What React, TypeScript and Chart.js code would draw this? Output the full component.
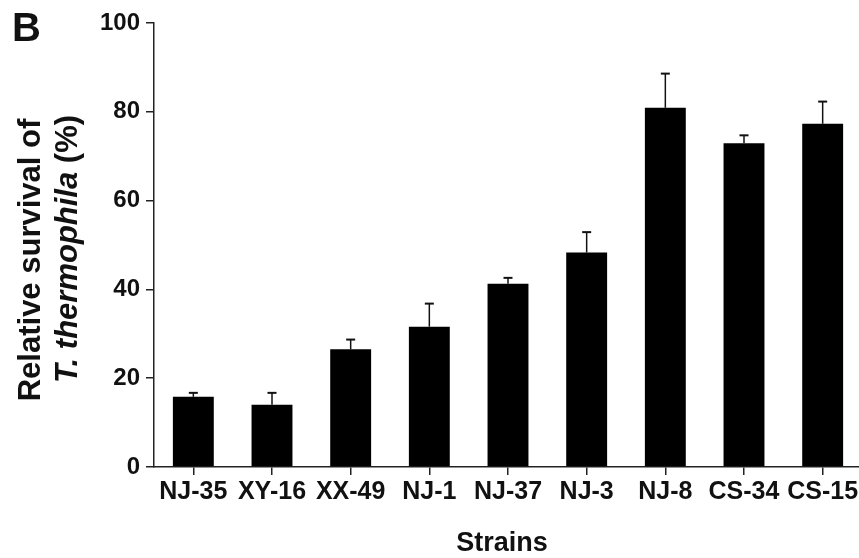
import React, { useEffect, useRef } from "react";
import { Chart, registerables } from "chart.js";

Chart.register(...registerables);

const strains = ["NJ-35", "XY-16", "XX-49", "NJ-1", "NJ-37", "NJ-3", "NJ-8", "CS-34", "CS-15"];
const survival = [15.8, 14.0, 26.5, 31.6, 41.3, 48.3, 80.9, 72.9, 77.3];
const survivalError = [0.9, 2.7, 2.2, 5.2, 1.3, 4.6, 7.7, 1.8, 5.0];
const yTicks = [0, 20, 40, 60, 80, 100];

const panelLabel = "B";
const yTitleLine1 = "Relative survival of";
const yTitleItalic = "T. thermophila";
const yTitleUpright = " (%)";
const xTitle = "Strains";

const FONT = "'Liberation Sans', Arial, sans-serif";
const INK = "#111";

const errorBarPlugin = {
  id: "errorBars",
  afterDatasetsDraw(chart: any) {
    const { ctx, scales } = chart;
    const xs = scales.x;
    const ys = scales.y;
    ctx.save();
    ctx.strokeStyle = "#111";
    ctx.lineWidth = 1.5;
    survival.forEach((v, i) => {
      const x = xs.getPixelForValue(i);
      const yBar = ys.getPixelForValue(v);
      const yTop = ys.getPixelForValue(v + survivalError[i]);
      ctx.beginPath();
      ctx.moveTo(x, yBar);
      ctx.lineTo(x, yTop);
      ctx.stroke();
      ctx.lineWidth = 2;
      ctx.beginPath();
      ctx.moveTo(x - 4.5, yTop);
      ctx.lineTo(x + 4.5, yTop);
      ctx.stroke();
      ctx.lineWidth = 1.5;
    });
    ctx.restore();
  },
};

const titlesPlugin = {
  id: "customTitles",
  afterDraw(chart: any) {
    const { ctx, chartArea } = chart;
    ctx.save();
    ctx.fillStyle = INK;
    // panel letter
    ctx.font = `bold 40px ${FONT}`;
    ctx.textAlign = "left";
    ctx.textBaseline = "alphabetic";
    ctx.fillText(panelLabel, 12, 41);

    // y title line 1
    ctx.save();
    ctx.translate(40, 260);
    ctx.rotate(-Math.PI / 2);
    ctx.font = `bold 31px ${FONT}`;
    ctx.textAlign = "center";
    ctx.fillText(yTitleLine1, 0, 0);
    ctx.restore();

    // y title line 2 (mixed italic)
    ctx.save();
    ctx.translate(77, 249);
    ctx.rotate(-Math.PI / 2);
    const italicFont = `italic bold 31px ${FONT}`;
    const uprightFont = `bold 31px ${FONT}`;
    ctx.font = italicFont;
    const w1 = ctx.measureText(yTitleItalic).width;
    ctx.font = uprightFont;
    const w2 = ctx.measureText(yTitleUpright).width;
    const start = -(w1 + w2) / 2;
    ctx.textAlign = "left";
    ctx.font = italicFont;
    ctx.fillText(yTitleItalic, start, 0);
    ctx.font = uprightFont;
    ctx.fillText(yTitleUpright, start + w1, 0);
    ctx.restore();

    // x title
    ctx.font = `bold 27px ${FONT}`;
    ctx.textAlign = "center";
    ctx.textBaseline = "alphabetic";
    ctx.fillText(xTitle, 502, 551);
    ctx.restore();
  },
};

export default function App() {
  const canvasRef = useRef<HTMLCanvasElement | null>(null);

  useEffect(() => {
    if (!canvasRef.current) return;
    const chart = new Chart(canvasRef.current, {
      type: "bar",
      data: {
        labels: strains,
        datasets: [
          {
            data: survival,
            backgroundColor: "#000",
            borderWidth: 0,
            barPercentage: 0.52,
            categoryPercentage: 1,
          },
        ],
      },
      options: {
        animation: false,
        responsive: false,
        layout: { padding: { top: 23, left: 0, right: 0, bottom: 0 } },
        plugins: {
          legend: { display: false },
          tooltip: { enabled: false },
          title: { display: false },
        },
        scales: {
          x: {
            offset: true,
            afterFit: (s: any) => {
              s.height = 91;
            },
            grid: {
              display: true,
              offset: false,
              drawOnChartArea: false,
              drawTicks: true,
              tickLength: 8,
              color: "#222",
              lineWidth: 1.5,
            },
            border: { display: true, color: "#222", width: 1.5 },
            ticks: {
              autoSkip: false,
              maxRotation: 0,
              minRotation: 0,
              padding: 2.5,
              color: INK,
              font: { family: FONT, size: 25, weight: "bold" },
            },
          },
          y: {
            min: 0,
            max: 100,
            afterFit: (s: any) => {
              s.width = 154;
            },
            afterBuildTicks: (s: any) => {
              s.ticks = yTicks.map((v) => ({ value: v }));
            },
            grid: {
              display: true,
              drawOnChartArea: false,
              drawTicks: true,
              tickLength: 8,
              color: "#222",
              lineWidth: 1.5,
            },
            border: { display: true, color: "#222", width: 1.5 },
            ticks: {
              padding: 6,
              color: INK,
              font: { family: FONT, size: 24, weight: "bold" },
            },
          },
        },
      },
      plugins: [errorBarPlugin, titlesPlugin],
    } as any);
    return () => chart.destroy();
  }, []);

  return (
    <div style={{ position: "fixed", left: 0, top: 0, width: 862, height: 558, background: "#fff" }}>
      <canvas ref={canvasRef} width={862} height={558} style={{ display: "block" }} />
    </div>
  );
}
